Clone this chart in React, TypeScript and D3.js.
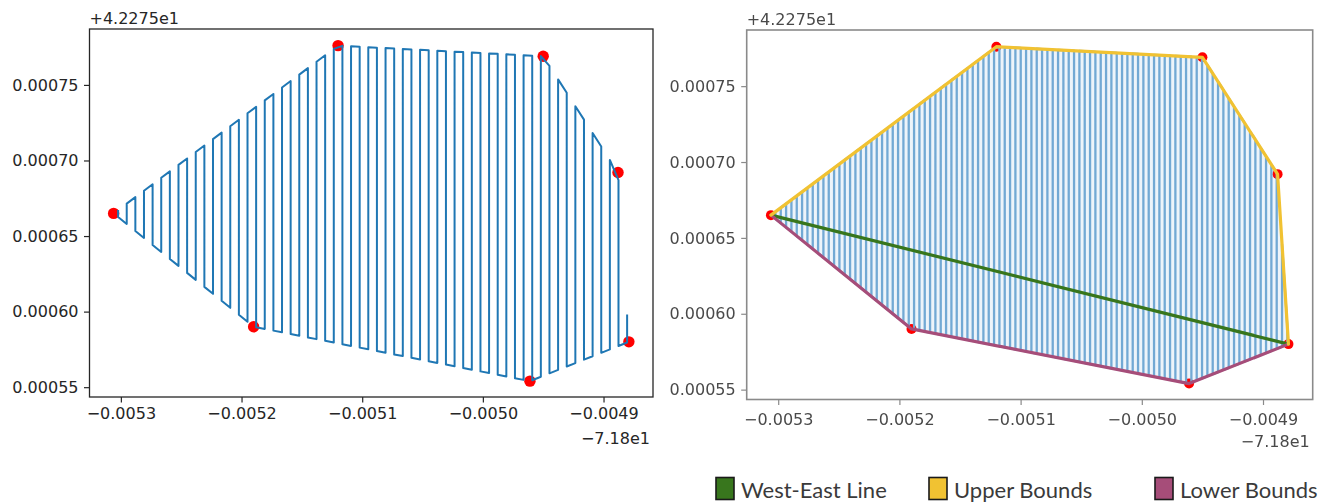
import React, { useEffect, useRef } from "react";
import * as d3 from "d3";

// hull vertices (offsets from the axis offset labels), order W, N, NE, E, SE, S, SW
const hullLon = [-0.005306, -0.00512, -0.00495, -0.004888, -0.004879, -0.004961, -0.00519];
const hullLat = [0.000665, 0.000776, 0.000769, 0.000692, 0.00058, 0.000554, 0.00059];

const upperIdx = [0, 1, 2, 3, 4];
const lowerIdx = [0, 6, 5, 4];
const westEastIdx = [0, 4];

const xTicks = [-0.0053, -0.0052, -0.0051, -0.005, -0.0049];
const yTicks = [0.00055, 0.0006, 0.00065, 0.0007, 0.00075];
const xOffsetLabel = "\u22127.18e1";
const yOffsetLabel = "+4.2275e1";
const xDomain = [-0.005326, -0.004859];
const yDomain = [0.0005435, 0.000787];

const legendNames = ["West-East Line", "Upper Bounds", "Lower Bounds"];
const legendColors = ["#38761d", "#f1c232", "#a64d79"];

// lawnmower sweep settings
const sweepStart = -0.0053023;
const sweepStepLeft = 7.15e-6;
const sweepStepRight = 4.4e-6;

const W = 1330, H = 502;
const FONT = "DejaVu Sans";

function spanAt(x, poly) {
    let lo = Infinity, hi = -Infinity;
    for (let i = 0; i < poly.length; i++) {
        const a = poly[i], b = poly[(i + 1) % poly.length];
        if (a[0] === b[0]) continue;
        if ((x - a[0]) * (x - b[0]) <= 0) {
            const t = (x - a[0]) / (b[0] - a[0]);
            const yy = a[1] + t * (b[1] - a[1]);
            lo = Math.min(lo, yy);
            hi = Math.max(hi, yy);
        }
    }
    return [lo, hi];
}

function sweepPath(poly, start, step) {
    const maxX = d3.max(poly, p => p[0]);
    const pts = [];
    for (let i = 0; start + i * step <= maxX; i++) {
        const xx = start + i * step;
        const [lo, hi] = spanAt(xx, poly);
        if (lo === Infinity) continue;
        if (i % 2 === 0) pts.push([xx, hi], [xx, lo]);
        else pts.push([xx, lo], [xx, hi]);
    }
    return pts;
}

function drawPanel(svg, box, opt) {
    const x = d3.scaleLinear().domain(xDomain).range([box.left, box.right]);
    const y = d3.scaleLinear().domain(yDomain).range([box.bottom, box.top]);
    const poly = hullLon.map((d, i) => [d, hullLat[i]]);
    const line = d3.line().x(d => x(d[0])).y(d => y(d[1]));

    const g = svg.append("g");
    if (opt.blur) g.attr("filter", "url(#soft)");

    g.append("rect")
        .attr("x", box.left).attr("y", box.top)
        .attr("width", box.right - box.left).attr("height", box.bottom - box.top)
        .attr("fill", "white");

    if (opt.fill) {
        g.append("path")
            .attr("d", line(poly) + "Z")
            .attr("fill", opt.fill);
    }

    g.append("g")
        .selectAll("circle")
        .data(poly)
        .enter()
        .append("circle")
        .attr("cx", d => x(d[0]))
        .attr("cy", d => y(d[1]))
        .attr("r", opt.dotR)
        .attr("fill", "#ff0000");

    g.append("path")
        .attr("d", line(sweepPath(poly, sweepStart, opt.step)))
        .attr("fill", "none")
        .attr("stroke", opt.sweepColor)
        .attr("stroke-width", opt.sweepWidth)
        .attr("stroke-linejoin", "round");

    if (opt.bounds) {
        const seg = (idx, color) => g.append("path")
            .attr("d", line(idx.map(i => poly[i])))
            .attr("fill", "none")
            .attr("stroke", color)
            .attr("stroke-width", 3.2)
            .attr("stroke-linejoin", "round")
            .attr("stroke-linecap", "round");
        seg(westEastIdx, legendColors[0]);
        seg(lowerIdx, legendColors[2]);
        seg(upperIdx, legendColors[1]);
    }

    g.append("rect")
        .attr("x", box.left).attr("y", box.top)
        .attr("width", box.right - box.left).attr("height", box.bottom - box.top)
        .attr("fill", "none")
        .attr("stroke", opt.frame)
        .attr("stroke-width", opt.frameWidth);

    const xAxis = g.append("g")
        .attr("transform", "translate(0," + box.bottom + ")")
        .call(d3.axisBottom(x).tickValues(xTicks).tickFormat(d3.format(".4f"))
            .tickSize(5.5).tickPadding(opt.xPad));
    const yAxis = g.append("g")
        .attr("transform", "translate(" + box.left + ",0)")
        .call(d3.axisLeft(y).tickValues(yTicks).tickFormat(d3.format(".5f"))
            .tickSize(5.5).tickPadding(5.5));

    [xAxis, yAxis].forEach(a => {
        a.select(".domain").remove();
        a.selectAll("line").attr("stroke", opt.frame).attr("stroke-width", 1.2);
        a.selectAll("text")
            .attr("fill", opt.text)
            .style("font-family", FONT)
            .style("font-size", "16px");
    });

    g.append("text")
        .attr("x", box.left)
        .attr("y", box.top - 5)
        .attr("fill", opt.text)
        .style("font-family", FONT)
        .style("font-size", "16px")
        .text(yOffsetLabel);

    g.append("text")
        .attr("x", box.right - 3)
        .attr("y", box.bottom + 47)
        .attr("text-anchor", "end")
        .attr("fill", opt.text)
        .style("font-family", FONT)
        .style("font-size", "16px")
        .text(xOffsetLabel);
}

export default function App() {
    const ref = useRef(null);

    useEffect(() => {
        const root = d3.select(ref.current);
        root.selectAll("*").remove();

        const svg = root.append("svg")
            .attr("width", W)
            .attr("height", H)
            .style("position", "absolute")
            .style("left", 0)
            .style("top", 0)
            .style("background", "white");

        svg.append("defs").append("filter")
            .attr("id", "soft")
            .append("feGaussianBlur")
            .attr("stdDeviation", 0.45);

        drawPanel(svg, { left: 89.5, right: 653, top: 29, bottom: 397 }, {
            step: sweepStepLeft,
            sweepColor: "#1f77b4",
            sweepWidth: 2,
            dotR: 5.7,
            frame: "#262626",
            frameWidth: 1.3,
            text: "#262626",
            xPad: 5.5,
            bounds: false,
            fill: null,
            blur: false
        });

        drawPanel(svg, { left: 746.7, right: 1312.7, top: 30, bottom: 399.5 }, {
            step: sweepStepRight,
            sweepColor: "#72a9d4",
            sweepWidth: 2.3,
            dotR: 5,
            frame: "#8a8a8a",
            frameWidth: 1.6,
            text: "#4a4a4a",
            xPad: 9,
            bounds: true,
            fill: "#edf4fa",
            blur: true
        });

        // legend
        const legendX = [716, 929, 1155];
        const lg = svg.append("g");
        legendNames.forEach((name, i) => {
            lg.append("rect")
                .attr("x", legendX[i]).attr("y", 477.5)
                .attr("width", 18).attr("height", 22)
                .attr("fill", legendColors[i])
                .attr("stroke", "#1a1a1a")
                .attr("stroke-width", 1.6);
            lg.append("text")
                .attr("x", legendX[i] + 25)
                .attr("y", 497.5)
                .attr("fill", "#3a3a3a")
                .style("font-family", "Lato")
                .style("font-size", "22px")
                .text(name);
        });
    }, []);

    return <div ref={ref}></div>;
}
